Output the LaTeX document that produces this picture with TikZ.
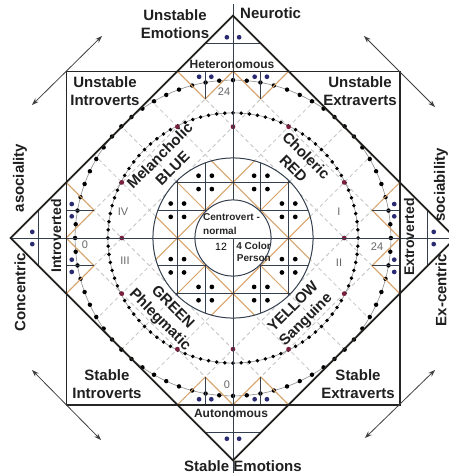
\documentclass[tikz,border=0pt]{standalone}
\usepackage{fontspec}
\setmainfont{Liberation Sans}
\usetikzlibrary{arrows.meta}
\definecolor{orng}{HTML}{D9A36A}
\definecolor{navy}{HTML}{2A2A70}
\definecolor{gdash}{HTML}{C4C4C4}
\definecolor{gridb}{HTML}{34404F}
\definecolor{reddot}{HTML}{7A1E40}
\definecolor{dline}{HTML}{22201C}
\begin{document}
\begin{tikzpicture}[x=1pt,y=-1pt,
  lbl/.style={font=\bfseries\fontsize{15}{18}\selectfont, align=center, text=black!88, inner sep=0pt},
  sidelbl/.style={font=\bfseries\fontsize{14}{17}\selectfont, align=center, text=black!88, inner sep=0pt},
  midlbl/.style={font=\bfseries\fontsize{12}{14}\selectfont, text=black!85, inner sep=0pt},
  numlbl/.style={font=\fontsize{11}{13}\selectfont, text=black!60, inner sep=0pt},
  smalllbl/.style={font=\bfseries\fontsize{10}{14}\selectfont, text=black!85, inner sep=0pt},
  arr/.style={{Stealth[length=7pt,width=5pt]}-{Stealth[length=7pt,width=5pt]}, draw=black!75, line width=0.8pt},
  latt/.style={draw=gdash, line width=0.8pt, dash pattern=on 4pt off 3pt},
  orl/.style={draw=orng, line width=1pt},
  gl/.style={draw=gridb, line width=0.8pt},
  mdot/.style={fill=navy},
  bdot/.style={fill=black}]
\useasboundingbox (0,0) rectangle (448,474);
\fill[white] (0,0) rectangle (448,474);

\begin{scope}[shift={(233,238)}, x=27.8pt, y=-27.8pt]
  % dashed lattice
  \begin{scope}
    \clip (0,-8) -- (8,0) -- (0,8) -- (-8,0) -- cycle;
    \clip (-6,-6) rectangle (6,6);
    \foreach \k in {-3,...,3} {
      \draw[latt] (2*\k+8,-8) -- (2*\k-8,8);
      \draw[latt] (2*\k-8,-8) -- (2*\k+8,8);
    }
  \end{scope}
  \fill[white] (0,0) circle[radius=2.88];
  % dotted circles
  \draw[black!45, line width=0.6pt] (0,0) circle[radius=5.68];
  \foreach \a in {0,5,...,355} \fill[bdot] (\a:5.68) circle[radius=0.08];
  \draw[black!45, line width=0.6pt] (0,0) circle[radius=4.5];
  \foreach \a in {0,3.75,...,356.25} \fill[bdot] (\a:4.5) circle[radius=0.07];
  \foreach \p/\q in {4/0,-4/0,0/4,0/-4,2/4,-2/4,2/-4,-2/-4,4/2,4/-2,-4/2,-4/-2}
    \fill[reddot] (\p,\q) circle[radius=0.085];
  % central disk
  \begin{scope}
    \clip (0,0) circle[radius=2.88];
    \foreach \k in {-1,0,1} {
      \draw[orl] (2*\k+4,-4) -- (2*\k-4,4);
      \draw[orl] (2*\k-4,-4) -- (2*\k+4,4);
    }
    \foreach \v in {-2,-1,1,2} {
      \draw[gl] (\v,-3) -- (\v,3);
      \draw[gl] (-3,\v) -- (3,\v);
    }
  \end{scope}
  \foreach \cx/\cy in {2/1,2/-1,-2/1,-2/-1,1/2,1/-2,-1/2,-1/-2}
    \foreach \dx in {-0.24,0.24} \foreach \dy in {-0.24,0.24}
      \fill[bdot] (\cx+\dx,\cy+\dy) circle[radius=0.085];
  \draw[gridb, line width=1pt] (0,0) circle[radius=2.88];
  % chevrons at the square sides and vertex triangles
  \foreach \r in {0,90,180,270} {
    \begin{scope}[rotate=\r]
      \draw[orl] (-2,-6) -- (-1,-5) -- (0,-6) -- (1,-5) -- (2,-6);
      \draw[gl] (-1,-6) -- (-1,-5);
      \draw[gl] (1,-6) -- (1,-5);
      \foreach \c in {-1,1} \foreach \dx in {-0.22,0.22}
        \fill[mdot] (\c+\dx,-5.8) circle[radius=0.085];
      \draw[gl] (-1,-7) -- (1,-7);
      \foreach \dx in {-0.22,0.22}
        \fill[mdot] (\dx,-7.22) circle[radius=0.085];
    \end{scope}
  }
  % axes
  \draw[gridb, line width=0.9pt] (0,-8.4) -- (0,8.45);
  \draw[gridb, line width=0.9pt] (-8,0) -- (8,0);
  % square and diamond
  \draw[black!85, line width=1.4pt] (-6,-6) rectangle (6,6);
  \draw[dline, line width=1.7pt] (0,-8) -- (8,0) -- (0,8) -- (-8,0) -- cycle;
  % inner white disk
  \fill[white] (0,0) circle[radius=1.37];
  \draw[gridb, line width=0.8pt] (-1.37,0) -- (1.37,0);
  \draw[gridb, line width=0.8pt] (0,0) -- (0,1.37);
  \draw[gridb, line width=1pt] (0,0) circle[radius=1.37];
\end{scope}

% arrows
\coordinate (tl1) at (32,105); \coordinate (tl2) at (102,36);
\coordinate (tr1) at (364,36); \coordinate (tr2) at (435,107);
\coordinate (bl1) at (32,370); \coordinate (bl2) at (101,440);
\coordinate (br1) at (435,370); \coordinate (br2) at (365,438);
\draw[arr] (tl1) -- (tl2);
\draw[arr] (tr1) -- (tr2);
\draw[arr] (bl1) -- (bl2);
\draw[arr] (br1) -- (br2);

% outer labels
\node[lbl] (ue) at (175,24) {Unstable\\Emotions};
\node[lbl, anchor=west] (neu) at (240,13) {Neurotic};
\node[lbl] (ui) at (105,91) {Unstable\\Introverts};
\node[lbl] (ux) at (360,91) {Unstable\\Extraverts};
\node[lbl] (si) at (107,384) {Stable\\Introverts};
\node[lbl] (sx) at (358,384) {Stable\\Extraverts};
\node[lbl] (se) at (243,466) {Stable Emotions};
\node[midlbl] (het) at (232,64) {Heteronomous};
\node[midlbl] (aut) at (231,413) {Autonomous};
\node[sidelbl, rotate=90] (intro) at (56,236) {Introverted};
\node[sidelbl, rotate=90] (extro) at (409,237) {Extroverted};
\node[lbl, rotate=90] (aso) at (20,178) {asociality};
\node[lbl, rotate=90] (con) at (20,292) {Concentric};
\node[lbl, rotate=90] (soc) at (441,185) {sociability};
\node[lbl, rotate=90] (exc) at (441,290) {Ex-centric};

% temperaments
\node[lbl, rotate=45] (mel) at (166,162) {Melancholic\\BLUE};
\node[lbl, rotate=-45] (cho) at (300,162) {Choleric\\RED};
\node[lbl, rotate=-45] (gre) at (166,314) {GREEN\\Phlegmatic};
\node[lbl, rotate=45] (yel) at (300,314) {YELLOW\\Sanguine};

% numerals
\node[numlbl] (n4) at (123,212) {IV};
\node[numlbl] (n3) at (125,261) {III};
\node[numlbl] (n1) at (339,212) {I};
\node[numlbl] (n2) at (339,263) {II};
\node[numlbl] (z0l) at (85,245) {0};
\node[numlbl] (z24r) at (377,247) {24};
\node[numlbl] (z24t) at (224,92) {24};
\node[numlbl] (z0b) at (227,385) {0};

% centre
\node[smalllbl, align=left, anchor=west] (cen) at (203,224) {Centrovert -\\normal};
\node[font=\fontsize{10.5}{12}\selectfont, inner sep=0pt] (twelve) at (221,247) {12};
\node[smalllbl, align=right, anchor=east, font=\bfseries\fontsize{10}{12}\selectfont] (fcp) at (271,252) {4 Color\\Person};
\end{tikzpicture}
\end{document}
